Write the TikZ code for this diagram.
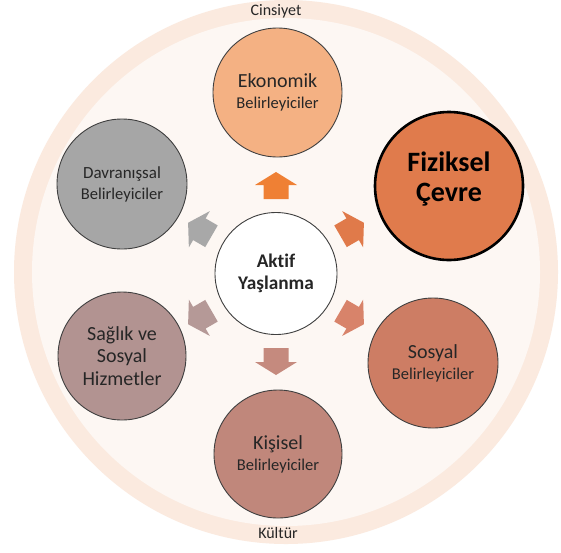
\documentclass[tikz,border=0pt]{standalone}
\usepackage{fontspec}
\setmainfont{Carlito}[Ligatures={NoCommon}]
\definecolor{ringC}{HTML}{FBEADF}
\definecolor{innerC}{HTML}{FDF7F3}
\definecolor{txtC}{HTML}{262626}
\definecolor{edgeC}{HTML}{3F3F3F}
\definecolor{ekoC}{HTML}{F4B183}
\definecolor{fizC}{HTML}{E07B4C}
\definecolor{sosC}{HTML}{CD7D64}
\definecolor{kisC}{HTML}{C0877B}
\definecolor{sagC}{HTML}{B29391}
\definecolor{davC}{HTML}{A6A6A6}
\definecolor{arrA}{HTML}{EF8034}
\definecolor{arrB}{HTML}{E07A4A}
\definecolor{arrC}{HTML}{D8836A}
\definecolor{arrD}{HTML}{C58A7E}
\definecolor{arrE}{HTML}{B59997}
\definecolor{arrF}{HTML}{A8A8A8}
\tikzset{
  factor/.style={circle, draw=edgeC, line width=0.9pt, inner sep=0pt,
    text=txtC, align=center, font=\fontsize{20}{21}\selectfont},
  outerlbl/.style={text=txtC, inner sep=0pt, anchor=base,
    font=\fontsize{16}{16}\selectfont},
}
\newcommand{\smallline}[1]{{\fontsize{16.5}{21}\selectfont #1}}
\begin{document}
\begin{tikzpicture}[x=1pt, y=-1pt]
  \useasboundingbox (0,0) rectangle (561,552);
  \clip (0,0) rectangle (561,552);
  \fill[white] (0,0) rectangle (561,552);
  % context ring and inner disc
  \fill[ringC] (286,272) circle[radius=272];
  \fill[innerC] (286,272) circle[radius=254];
  \node[outerlbl] (cins) at (276,15) {Cinsiyet};
  \node[outerlbl] (kult) at (278,538) {Kültür};

  % central concept
  \node[factor, fill=white, minimum size=122pt, font=\bfseries\fontsize{19.3}{22}\selectfont]
    (akt) at (276,273.5) {Aktif\\Yaşlanma};

  % determinants around it
  \node[factor, fill=ekoC, minimum size=129pt] (eko) at (277.5,92.5)
    {Ekonomik\\\smallline{Belirleyiciler}};
  \node[factor, fill=fizC, draw=black, line width=2.6pt, minimum size=148pt, text=black,
    text depth=18pt, font=\bfseries\fontsize{28}{30}\selectfont] (fiz) at (449,186)
    {Fiziksel\\Çevre};
  \node[factor, fill=sosC, minimum size=130pt] (sos) at (433,363)
    {Sosyal\\\smallline{Belirleyiciler}};
  \node[factor, fill=kisC, minimum size=128pt] (kis) at (278,454)
    {Kişisel\\\smallline{Belirleyiciler}};
  \node[factor, fill=sagC, minimum size=128pt, font=\fontsize{20}{22.5}\selectfont]
    (sag) at (122,356) {Sağlık ve\\Sosyal\\Hizmetler};
  \node[factor, fill=davC, minimum size=130pt, font=\fontsize{17}{21}\selectfont]
    (dav) at (122,184) {Davranışsal\\\smallline{Belirleyiciler}};

  % block arrows pointing outward from the centre
  \foreach \ang/\col in {90/arrA, 30/arrB, -30/arrC, -90/arrD, 210/arrE, 150/arrF}
    \fill[\col, shift={(akt.center)}, rotate=\ang]
      (74.5,12.5) -- (88.5,12.5) -- (88.5,21) -- (101.5,0) -- (88.5,-21)
      -- (88.5,-12.5) -- (74.5,-12.5) -- cycle;
\end{tikzpicture}
\end{document}
